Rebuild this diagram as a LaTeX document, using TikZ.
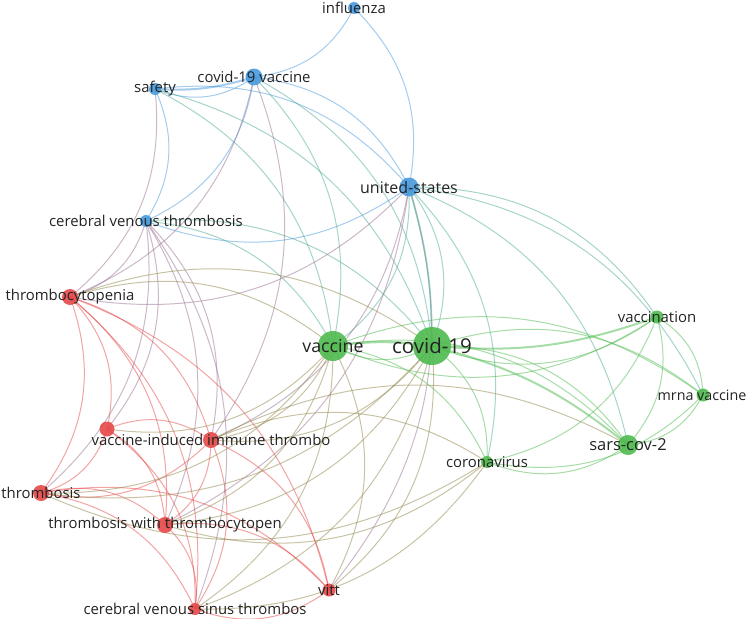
\documentclass[tikz,border=0pt]{standalone}
\usepackage{fontspec}
\setmainfont{Open Sans}
\usepackage{tikz}
\usetikzlibrary{backgrounds}
\definecolor{vosred}{RGB}{230,72,72}
\definecolor{vosgreen}{RGB}{78,186,78}
\definecolor{vosblue}{RGB}{72,154,222}
\definecolor{vostext}{RGB}{35,35,35}
\tikzset{
  term/.style={circle, inner sep=0pt, fill opacity=0.9, minimum size=#1},
  lbl/.style={font=\fontsize{#1}{#1}\selectfont, text=vostext, inner sep=0pt},
  lbl/.default=14.9,
  edge/.style={line width=1pt, draw opacity=0.5},
  rr/.style={edge, draw=vosred},
  gg/.style={edge, draw=vosgreen},
  bb/.style={edge, draw=vosblue},
  rg/.style={edge, draw=vosred!45!vosgreen},
  rb/.style={edge, draw=vosred!50!vosblue},
  gb/.style={edge, draw=vosgreen!50!vosblue}
}

\begin{document}
\begin{tikzpicture}[x=1pt, y=-1pt]
  \useasboundingbox (0,0) rectangle (749,618);

  % blue cluster
  \node[term=12, fill=vosblue, label={[lbl]center:influenza}] (infl) at (354,8) {};
  \node[term=17, fill=vosblue, label={[lbl]center:covid-19 vaccine}] (cvac) at (254,77) {};
  \node[term=12, fill=vosblue, label={[lbl]center:safety}] (safe) at (155,89) {};
  \node[term=19, fill=vosblue, label={[lbl=16]center:united-states}] (us) at (409,187) {};
  \node[term=12, fill=vosblue, label={[lbl]center:cerebral venous thrombosis}] (cvt) at (146,221) {};

  % green cluster
  \node[term=30, fill=vosgreen, label={[lbl=17.8]center:vaccine}] (vac) at (333,346) {};
  \node[term=38, fill=vosgreen, label={[lbl=20.5]center:covid-19}] (covid) at (432,346) {};
  \node[term=13, fill=vosgreen, label={[lbl]center:vaccination}] (vcn) at (657,317) {};
  \node[term=13, fill=vosgreen, label={[lbl=14.3, xshift=-1pt]center:mrna vaccine}] (mrna) at (703,395) {};
  \node[term=20, fill=vosgreen, label={[lbl=16.5]center:sars-cov-2}] (sars) at (628,445) {};
  \node[term=12, fill=vosgreen, label={[lbl]center:coronavirus}] (corona) at (487,462) {};

  % red cluster
  \node[term=16, fill=vosred, label={[lbl]center:thrombocytopenia}] (tcp) at (70,297) {};
  \node[term=15, fill=vosred] (vunk) at (107,429) {};
  \node[term=16, fill=vosred, label={[lbl]center:vaccine-induced immune thrombo}] (vitti) at (211,440) {};
  \node[term=16, fill=vosred, label={[lbl]center:thrombosis}] (thr) at (41,493) {};
  \node[term=16, fill=vosred, label={[lbl]center:thrombosis with thrombocytopen}] (ttp) at (165,525) {};
  \node[term=13, fill=vosred, label={[lbl]center:vitt}] (vitt) at (329,590) {};
  \node[term=12, fill=vosred, label={[lbl]center:cerebral venous sinus thrombos}] (cvst) at (195,609) {};

  % links
  \begin{scope}[on background layer]
    \foreach \a/\b in {infl/cvac, infl/us, cvac/safe, cvac/us, cvac/cvt, safe/us, safe/cvt, us/cvt}
      \draw[bb] (\a.center) to[bend left=28] (\b.center);
    \foreach \a/\b in {cvac/vac, cvac/covid, safe/vac, safe/covid, us/vac, us/covid, us/vcn, us/mrna,
                       us/sars, us/corona, cvt/vac, cvt/covid}
      \draw[gb] (\a.center) to[bend left=28] (\b.center);
    \foreach \a/\b in {safe/tcp, cvac/tcp, cvac/vitti, us/tcp, us/vitti, us/vitt, us/ttp, cvt/tcp,
                       cvt/thr, cvt/ttp, cvt/cvst, cvt/vitti, cvt/vunk}
      \draw[rb] (\a.center) to[bend left=28] (\b.center);
    \foreach \a/\b in {tcp/thr, tcp/vunk, tcp/vitti, tcp/ttp, tcp/vitt, tcp/cvst, vunk/thr, vunk/vitti,
                       vunk/ttp, vunk/cvst, vitti/thr, vitti/ttp, vitti/vitt, vitti/cvst, thr/ttp,
                       thr/cvst, thr/vitt, ttp/cvst, ttp/vitt, vitt/cvst}
      \draw[rr] (\a.center) to[bend left=28] (\b.center);
    \foreach \a/\b in {tcp/vac, tcp/covid, vac/vunk, vac/vitti, covid/vitti, vitti/corona, vac/thr,
                       covid/thr, corona/thr, vac/ttp, covid/ttp, corona/ttp, vac/vitt, covid/vitt,
                       vac/cvst, covid/cvst, corona/cvst, vitti/sars}
      \draw[rg] (\a.center) to[bend left=28] (\b.center);
    \foreach \a/\b in {covid/vac, vcn/vac, vac/mrna, vac/sars, vac/corona, vcn/covid, covid/mrna,
                       covid/sars, covid/corona, vcn/mrna, vcn/sars, vcn/corona, mrna/sars,
                       mrna/corona, sars/corona}
      \draw[gg] (\a.center) to[bend left=28] (\b.center);
    % stronger links
    \draw[bb, line width=2pt] (cvac.center) to[bend left=10] (safe.center);
    \draw[gb, line width=1.8pt] (us.center) to[bend left=8] (covid.center);
    \draw[gg, line width=2.4pt] (vac.center) to[bend left=8] (covid.center);
    \draw[gg, line width=2pt] (vcn.center) to[bend left=12] (covid.center);
    \draw[gg, line width=2pt] (covid.center) to[bend left=12] (sars.center);
  \end{scope}
\end{tikzpicture}
\end{document}
